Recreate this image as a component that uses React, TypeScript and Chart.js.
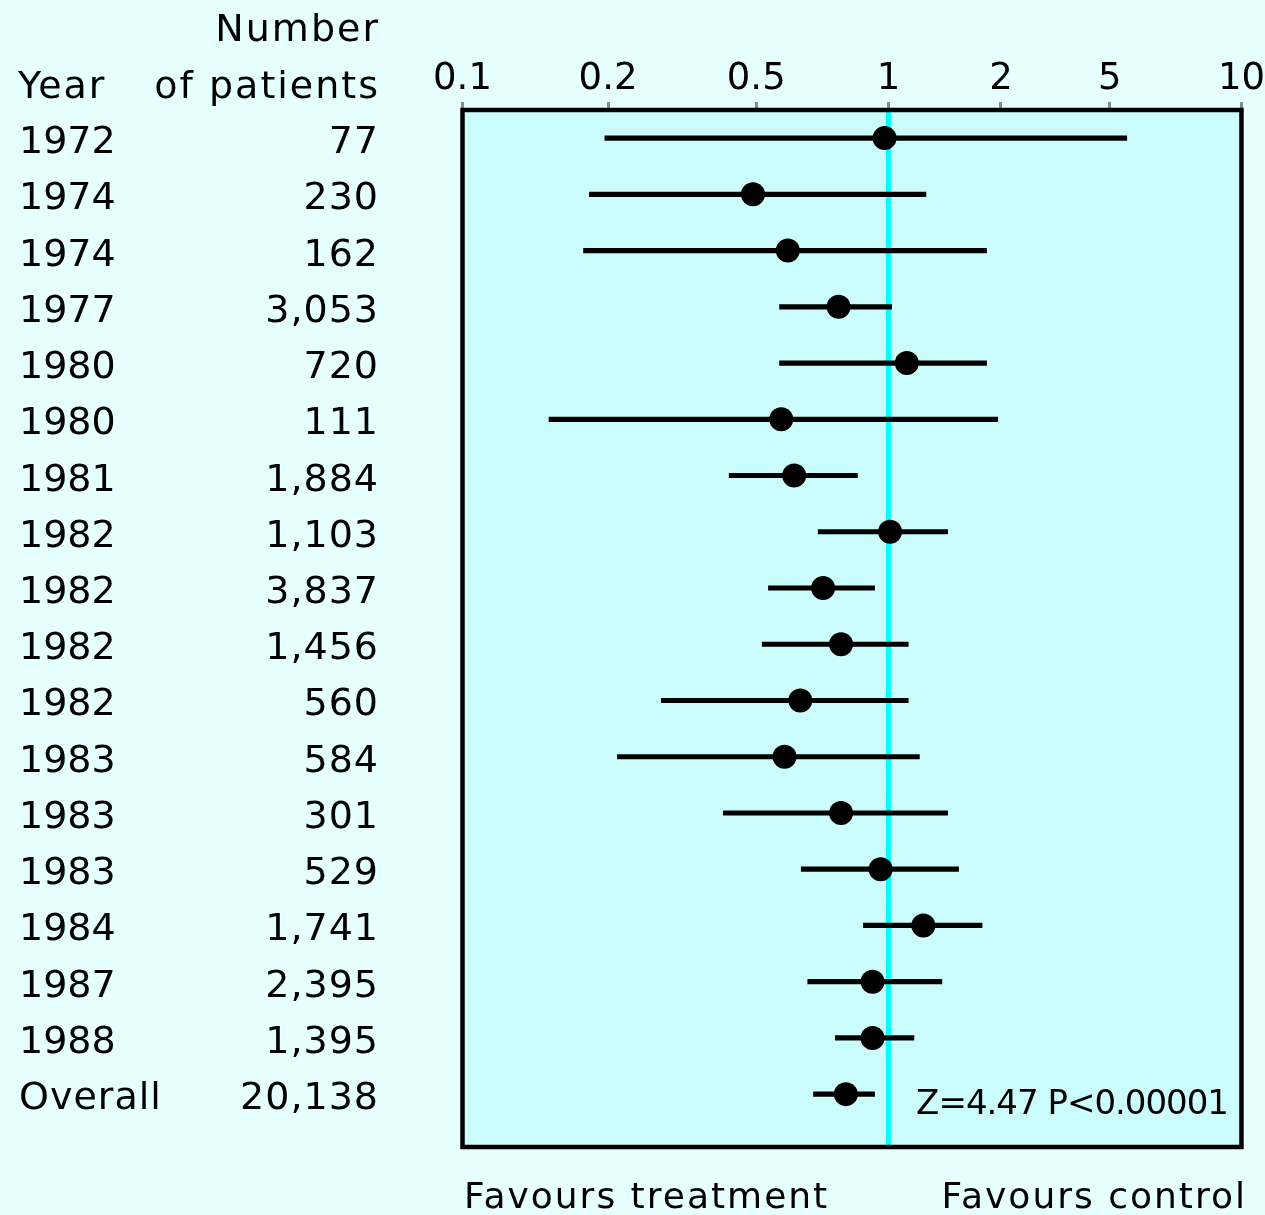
import React, { useEffect, useRef } from 'react';
import { Chart, registerables, LogarithmicScale } from 'chart.js';

// ---- data ----
const years = ['1972', '1974', '1974', '1977', '1980', '1980', '1981', '1982', '1982', '1982', '1982', '1983', '1983', '1983', '1984', '1987', '1988', 'Overall'];
const patients = ['77', '230', '162', '3,053', '720', '111', '1,884', '1,103', '3,837', '1,456', '560', '584', '301', '529', '1,741', '2,395', '1,395', '20,138'];
const oddsRatio = [0.98, 0.49, 0.59, 0.77, 1.12, 0.57, 0.61, 1.01, 0.71, 0.78, 0.63, 0.58, 0.78, 0.96, 1.24, 0.92, 0.92, 0.80];
const lowerCI = [0.197, 0.183, 0.178, 0.565, 0.565, 0.151, 0.423, 0.692, 0.533, 0.516, 0.278, 0.212, 0.408, 0.633, 0.877, 0.655, 0.757, 0.675];
const upperCI = [5.47, 1.26, 1.83, 1.02, 1.83, 1.96, 0.85, 1.44, 0.93, 1.13, 1.13, 1.21, 1.44, 1.54, 1.78, 1.39, 1.17, 0.93];
const tickValues = [0.1, 0.2, 0.5, 1, 2, 5, 10];
const headerNumber = 'Number';
const headerYear = 'Year';
const headerPatients = 'of patients';
const statText = 'Z=4.47 P<0.00001';
const leftFooter = 'Favours treatment';
const rightFooter = 'Favours control';

// Calibration of the hand-drawn log axis (fraction of axis length at each tick)
const AXIS_FRACTIONS = [0, 0.1868, 0.3771, 0.5468, 0.6913, 0.8308, 1];

class CalibratedLogScale extends LogarithmicScale {
  static id = 'calibratedLog';
  static defaults = LogarithmicScale.defaults;

  _frac(value: number) {
    const lv = Math.log10(value);
    let i = 0;
    while (i < tickValues.length - 2 && lv > Math.log10(tickValues[i + 1])) i++;
    const a = Math.log10(tickValues[i]);
    const b = Math.log10(tickValues[i + 1]);
    return AXIS_FRACTIONS[i] + ((AXIS_FRACTIONS[i + 1] - AXIS_FRACTIONS[i]) * (lv - a)) / (b - a);
  }

  getPixelForValue(value: any) {
    if (value === undefined || value === 0) value = (this as any).min;
    if (value === null || isNaN(value)) return NaN;
    return (this as any).getPixelForDecimal(this._frac(value));
  }

  getValueForPixel(pixel: number) {
    const d = (this as any).getDecimalForPixel(pixel);
    let i = 0;
    while (i < AXIS_FRACTIONS.length - 2 && d > AXIS_FRACTIONS[i + 1]) i++;
    const a = Math.log10(tickValues[i]);
    const b = Math.log10(tickValues[i + 1]);
    const t = (d - AXIS_FRACTIONS[i]) / (AXIS_FRACTIONS[i + 1] - AXIS_FRACTIONS[i]);
    return Math.pow(10, a + t * (b - a));
  }
}

Chart.register(...registerables, CalibratedLogScale as any);

const FONT = '"DejaVu Sans", sans-serif';

const decorPlugin = {
  id: 'forestDecor',
  beforeDraw(chart: any) {
    const { ctx, chartArea: ca, width, height } = chart;
    ctx.save();
    ctx.fillStyle = '#e6ffff';
    ctx.fillRect(0, 0, width, height);
    ctx.fillStyle = '#cbfdfd';
    ctx.fillRect(ca.left, ca.top, ca.right - ca.left, ca.bottom - ca.top);
    ctx.restore();
  },
  beforeDatasetsDraw(chart: any) {
    const { ctx, chartArea: ca } = chart;
    const x1 = chart.scales.x.getPixelForValue(1);
    ctx.save();
    ctx.strokeStyle = '#00ffff';
    ctx.lineWidth = 5;
    ctx.beginPath();
    ctx.moveTo(x1, ca.top);
    ctx.lineTo(x1, ca.bottom);
    ctx.stroke();
    ctx.strokeStyle = '#000000';
    ctx.lineWidth = 4.5;
    ctx.strokeRect(ca.left, ca.top, ca.right - ca.left, ca.bottom - ca.top);
    ctx.restore();
  },
  afterDraw(chart: any) {
    const { ctx } = chart;
    const y = chart.scales.y;
    ctx.save();
    ctx.fillStyle = '#000000';
    ctx.textBaseline = 'alphabetic';
    ctx.font = `38px ${FONT}`;
    (ctx as any).letterSpacing = '2px';
    ctx.textAlign = 'right';
    ctx.fillText(headerNumber, 380, 41);
    ctx.fillText(headerPatients, 380, 98);
    ctx.textAlign = 'left';
    ctx.fillText(headerYear, 18, 98);
    years.forEach((yr, i) => {
      const py = y.getPixelForValue(i);
      ctx.textAlign = 'left';
      (ctx as any).letterSpacing = yr === 'Overall' ? '1px' : '0px';
      ctx.fillText(yr, 19, py + 15);
      (ctx as any).letterSpacing = '1px';
      ctx.textAlign = 'right';
      ctx.fillText(patients[i], 379, py + 15);
    });
    // statistic
    ctx.font = `34px ${FONT}`;
    (ctx as any).letterSpacing = '-1px';
    ctx.textAlign = 'right';
    ctx.fillText(statText, 1228, y.getPixelForValue(years.length - 1) + 20);
    // footers
    ctx.font = `36px ${FONT}`;
    (ctx as any).letterSpacing = '2px';
    ctx.textAlign = 'left';
    ctx.fillText(leftFooter, 464, 1208);
    ctx.textAlign = 'right';
    ctx.fillText(rightFooter, 1247, 1208);
    ctx.restore();
  },
};

export default function App() {
  const ref = useRef<HTMLCanvasElement | null>(null);
  useEffect(() => {
    if (!ref.current) return;
    const rows = years.map((_, i) => i);
    const chart = new Chart(ref.current, {
      type: 'bar',
      data: {
        datasets: [
          {
            type: 'scatter',
            label: 'Odds ratio',
            data: rows.map((i) => ({ x: oddsRatio[i], y: i })),
            pointRadius: 12,
            pointBackgroundColor: '#000000',
            pointBorderWidth: 0,
            order: 0,
          } as any,
          {
            type: 'bar',
            label: '95% CI',
            indexAxis: 'y',
            data: rows.map((i) => ({ x: [lowerCI[i], upperCI[i]], y: i })),
            backgroundColor: '#000000',
            borderWidth: 0,
            barThickness: 4.5,
            order: 1,
          } as any,
        ],
      },
      options: {
        animation: false,
        responsive: false,
        events: [],
        indexAxis: 'y',
        layout: { padding: { top: 57.6, left: 462.5, right: 23, bottom: 68 } },
        plugins: { legend: { display: false }, tooltip: { enabled: false } },
        scales: {
          x: {
            type: 'calibratedLog' as any,
            position: 'top',
            min: 0.1,
            max: 10,
            afterBuildTicks: (scale: any) => {
              scale.ticks = tickValues.map((v) => ({ value: v }));
            },
            ticks: {
              autoSkip: false,
              maxRotation: 0,
              padding: 0,
              color: '#000000',
              font: { family: FONT, size: 37 },
              callback: (v: any) => String(v),
            },
            grid: {
              display: true,
              drawOnChartArea: false,
              drawTicks: true,
              tickLength: 8,
              tickWidth: 3,
              tickColor: '#7f9090',
            },
            border: { display: false },
          } as any,
          y: {
            type: 'linear',
            min: -0.5,
            max: 17.94,
            reverse: true,
            offset: false,
            grid: { offset: false },
            display: false,
          } as any,
        },
      },
      plugins: [decorPlugin],
    } as any);
    return () => chart.destroy();
  }, []);
  return (
    <div style={{ position: 'fixed', left: 0, top: 0, width: 1265, height: 1215 }}>
      <canvas ref={ref} width={1265} height={1215} style={{ display: 'block', width: 1265, height: 1215 }} />
    </div>
  );
}
